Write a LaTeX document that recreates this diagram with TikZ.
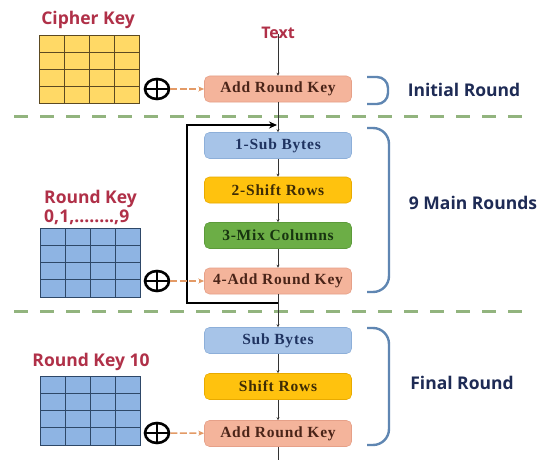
\documentclass[tikz,border=0pt]{standalone}
\usepackage{fontspec}
\setmainfont{Liberation Serif}
\newfontfamily\labfont{Open Sans}
\newfontfamily\stagefont[LetterSpace=5]{Liberation Serif}
\usetikzlibrary{arrows.meta,calc,shapes.geometric}

\definecolor{salmonfill}{HTML}{F4B49B}
\definecolor{salmonline}{HTML}{E6A088}
\definecolor{salmontext}{HTML}{4A2418}
\definecolor{bluefill}{HTML}{A7C4E8}
\definecolor{blueline}{HTML}{8DAFD9}
\definecolor{bluetext}{HTML}{1F3360}
\definecolor{goldfill}{HTML}{FFC20E}
\definecolor{goldline}{HTML}{E8AA00}
\definecolor{goldtext}{HTML}{3E2C05}
\definecolor{greenfill}{HTML}{6CAE46}
\definecolor{greenline}{HTML}{5C9A3A}
\definecolor{greentext}{HTML}{173410}
\definecolor{keyred}{HTML}{B03048}
\definecolor{navy}{HTML}{1E2B55}
\definecolor{bracecol}{HTML}{5F86B2}
\definecolor{sepgreen}{HTML}{92B47E}
\definecolor{xorarrow}{HTML}{E39A66}
\definecolor{gridyellow}{HTML}{FFD966}
\definecolor{gridyellowline}{HTML}{5C4A22}
\definecolor{gridblue}{HTML}{8EB4E3}
\definecolor{gridblueline}{HTML}{2E4868}

\tikzset{
  stage/.style={rounded corners=5pt, minimum width=147pt, minimum height=26pt,
    inner sep=0pt, line width=0.6pt,
    font=\stagefont\bfseries\fontsize{15.5}{17}\selectfont},
  salmonstage/.style={stage, fill=salmonfill, draw=salmonline, text=salmontext},
  bluestage/.style={stage, fill=bluefill, draw=blueline, text=bluetext},
  goldstage/.style={stage, fill=goldfill, draw=goldline, text=goldtext},
  greenstage/.style={stage, fill=greenfill, draw=greenline, text=greentext},
  keygrid/.style 2 args={minimum width=100pt, minimum height=#2, inner sep=0pt,
    fill=#1, draw=#1line, line width=1pt,
    path picture={
      \foreach \i in {1,2,3}{
        \draw[#1line, line width=1pt]
          ($(path picture bounding box.south west)!\i/4!(path picture bounding box.south east)$) --
          ($(path picture bounding box.north west)!\i/4!(path picture bounding box.north east)$);
        \draw[#1line, line width=1pt]
          ($(path picture bounding box.south west)!\i/4!(path picture bounding box.north west)$) --
          ($(path picture bounding box.south east)!\i/4!(path picture bounding box.north east)$);
      }}},
  xorsym/.style={ellipse, draw=black, line width=2.6pt, minimum width=24pt, minimum height=20pt,
    inner sep=0pt,
    path picture={
      \draw[line width=2.6pt] (path picture bounding box.north) -- (path picture bounding box.south);
      \draw[line width=2.6pt] (path picture bounding box.west) -- (path picture bounding box.east);}},
  redlabel/.style={text=keyred, font=\labfont\bfseries\fontsize{17.5}{19}\selectfont, inner sep=0pt},
  navylabel/.style={text=navy, font=\labfont\bfseries\fontsize{17.5}{19}\selectfont, inner sep=0pt},
  flow/.style={line width=1pt, draw=black!80, -{Stealth[length=3pt,width=3pt]}},
  keyarrow/.style={line width=1.4pt, draw=xorarrow, dash pattern=on 7pt off 2.5pt,
    -{Stealth[length=6pt,width=5pt]}},
  loopline/.style={line width=2.6pt, draw=black, -{Stealth[length=8pt,width=7pt]}},
  brace/.style={line width=2.4pt, draw=bracecol, rounded corners=11pt},
  separator/.style={line width=3pt, draw=sepgreen, dash pattern=on 14pt off 12pt},
}

\begin{document}
\begin{tikzpicture}[x=1pt,y=-1pt]
\useasboundingbox[fill=white] (0,0) rectangle (538,460);

% round separators
\draw[separator] (14,116) -- (532,116);
\draw[separator] (14,311) -- (532,311);

% input text and stages
\node[redlabel, font=\labfont\bfseries\fontsize{16}{18}\selectfont] (txt) at (278,33) {Text};

\node[salmonstage] (init) at (278,89)    {Add Round Key};
\node[bluestage]   (sb1)  at (278,145.5) {1-Sub Bytes};
\node[goldstage]   (sr1)  at (278,190)   {2-Shift Rows};
\node[greenstage]  (mc1)  at (278,235.5) {3-Mix Columns};
\node[salmonstage] (ark1) at (278,281)   {4-Add Round Key};
\node[bluestage]   (sb2)  at (278,340.5) {Sub Bytes};
\node[goldstage]   (sr2)  at (278,386.5) {Shift Rows};
\node[salmonstage] (ark2) at (278,433.5) {Add Round Key};
\coordinate (out) at (278,460);

\draw[flow] (txt.south) ++(0,5pt) -- (init.north);
\draw[flow] (init) -- (sb1);
\draw[flow] (sb1) -- (sr1);
\draw[flow] (sr1) -- (mc1);
\draw[flow] (mc1) -- (ark1);
\draw[flow] (ark1) -- (sb2);
\draw[flow] (sb2) -- (sr2);
\draw[flow] (sr2) -- (ark2);
\draw[line width=1pt, draw=black!80] (ark2) -- (out);

% feedback loop of the main rounds
\coordinate (lpb) at (278,303);
\coordinate (lpl) at (187,303);
\coordinate (lpt) at (277,125);
\draw[loopline] (lpb) -- (lpl) |- (lpt);

% round keys
\node[redlabel] (ckl) at (88,20) {Cipher Key};
\node[keygrid={gridyellow}{67pt}] (ck) at (89.5,69.5) {};
\node[xorsym] (x0) at (157,89) {};
\draw[keyarrow] (x0) -- (init);

\node[redlabel, align=left, anchor=west, font=\labfont\bfseries\fontsize{17.5}{19}\selectfont]
  (rkl) at (44,207.5) {Round Key\\0,1,........,9};
\node[keygrid={gridblue}{69pt}] (rk) at (90,262.5) {};
\node[xorsym] (x1) at (157,281) {};
\draw[keyarrow] (x1) -- (ark1);

\node[redlabel] (rk10l) at (91,362) {Round Key 10};
\node[keygrid={gridblue}{69pt}] (rk10) at (90,410.5) {};
\node[xorsym] (x2) at (157,433) {};
\draw[keyarrow] (x2) -- (ark2);

% round braces and names
\draw[brace] (367,77) -- (388,77) -- (388,104) -- (367,104);
\node[navylabel] (ir) at (464,90) {Initial Round};

\draw[brace, rounded corners=16pt] (367,128) -- (389,128) -- (389,292) -- (367,292);
\node[navylabel] (mr) at (473,203) {9 Main Rounds};

\draw[brace, rounded corners=16pt] (367,328) -- (389,328) -- (389,445) -- (367,445);
\node[navylabel] (fr) at (462,383) {Final Round};
\end{tikzpicture}
\end{document}
